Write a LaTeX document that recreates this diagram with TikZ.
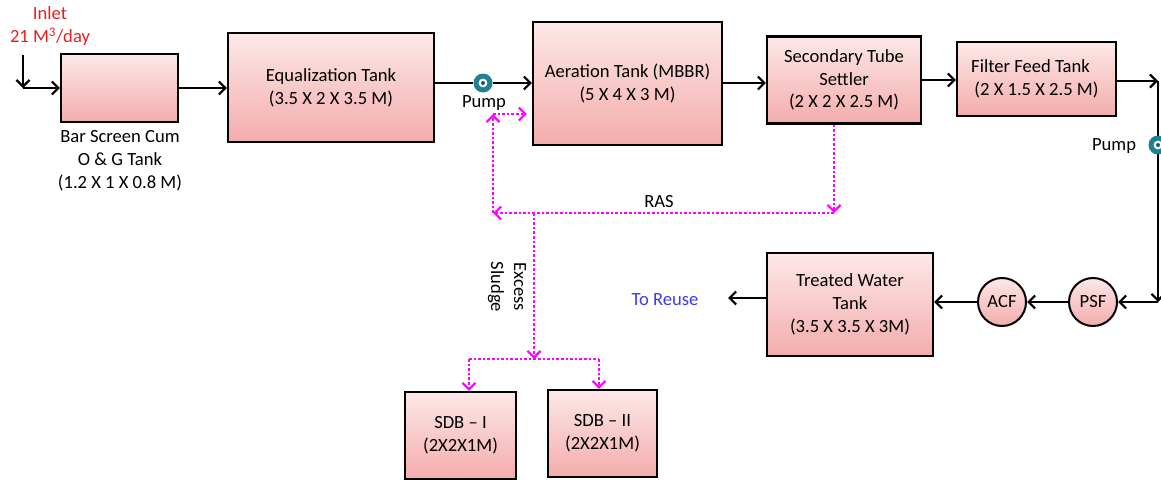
\documentclass[tikz,border=0pt]{standalone}
\usepackage{fontspec}
\setmainfont{Carlito}
\usetikzlibrary{arrows.meta,calc}

\definecolor{boxtop}{RGB}{253,232,232}
\definecolor{boxbot}{RGB}{244,172,172}
\definecolor{recycle}{RGB}{255,0,255}
\definecolor{pumpteal}{RGB}{32,128,150}
\definecolor{inletred}{RGB}{235,30,30}
\definecolor{reuseblue}{RGB}{60,60,235}

\tikzset{
  tank/.style={draw=black, line width=2.2pt, rectangle, top color=boxtop, bottom color=boxbot,
    align=center, inner sep=0pt, font=\fontsize{18.6}{22.8}\selectfont},
  filt/.style={draw=black, line width=2pt, circle, minimum size=48pt, inner sep=0pt,
    top color=boxtop, bottom color=boxbot, font=\fontsize{18.6}{22.8}\selectfont},
  lbl/.style={align=center, inner sep=0pt, font=\fontsize{18.6}{22.8}\selectfont},
  flow/.style={draw=black, line width=2.2pt},
  flowarrow/.style={flow, -{Straight Barb[length=6.5pt,width=13pt,line width=2.2pt]}},
  sludge/.style={draw=recycle, line width=2.6pt, dash pattern=on 2.6pt off 2pt},
  sludgearrow/.style={sludge, -{Straight Barb[length=6.5pt,width=13pt,line width=2.2pt]}},
  pumpdot/.style={circle, fill=pumpteal, minimum size=19pt, inner sep=0pt,
    path picture={\fill[white] (path picture bounding box.center) circle (4.4pt);
                  \fill[pumpteal!70!black] (path picture bounding box.center) circle (2pt);}}
}

\begin{document}
\begin{tikzpicture}[x=1pt, y=-1pt]
\useasboundingbox (0,0) rectangle (1161,479);

% process tanks
\node[tank, minimum width=117pt, minimum height=68pt] (bar) at (119.5,88) {};
\node[tank, minimum width=206pt, minimum height=109pt] (eq) at (331,87.5)
  {Equalization Tank\\(3.5 X 2 X 3.5 M)};
\node[tank, minimum width=189pt, minimum height=123pt] (aer) at (627.5,83.5)
  {Aeration Tank (MBBR)\\(5 X 4 X 3 M)};
\node[tank, minimum width=154pt, minimum height=87pt] (set) at (844,80)
  {Secondary Tube\\Settler\\(2 X 2 X 2.5 M)};
\node[tank, minimum width=159pt, minimum height=74pt] (ff) at (1036.5,79)
  {\hspace*{-12pt}Filter Feed Tank\\(2 X 1.5 X 2.5 M)};
\node[tank, minimum width=166pt, minimum height=103pt] (tw) at (850,304.5)
  {Treated Water\\Tank\\(3.5 X 3.5 X 3M)};
\node[filt] (acf) at (1002,302) {ACF};
\node[filt] (psf) at (1093,302) {PSF};
\node[tank, minimum width=111pt, minimum height=87pt] (sdb1) at (460.5,435.5)
  {SDB -- I\\(2X2X1M)};
\node[tank, minimum width=109pt, minimum height=87pt] (sdb2) at (602.5,433.5)
  {SDB -- II\\(2X2X1M)};

% labels
\node[lbl, text=inletred] (inlet) at (50,26) {Inlet\\21 M\textsuperscript{3}/day};
\node[lbl] (barlbl) at (120,161) {Bar Screen Cum\\O \& G Tank\\(1.2 X 1 X 0.8 M)};
\node[lbl, text=reuseblue] (reuse) at (665,300) {To Reuse};
\node[lbl] (raslbl) at (659,202) {RAS};
\node[lbl, rotate=-90] (exlbl) at (507,287) {Excess\\Sludge};

% main flow line
\coordinate (intop) at (23,55);
\coordinate (incorner) at (23,88);
\draw[flowarrow] (intop) -- (incorner);
\draw[flowarrow] (incorner) -- (bar.west);
\draw[flowarrow] (bar.east) -- (bar.east -| eq.west);
\node[pumpdot] (pump1) at (483,83) {};
\node[lbl] (pump1lbl) at (484,103) {Pump};
\draw[flow] (eq.east |- pump1) -- (pump1.west);
\draw[flowarrow] (pump1.east) -- (pump1 -| aer.west);
\draw[flowarrow] (aer.east |- pump1) -- (pump1 -| set.west);
\draw[flowarrow] (set.east) -- (set.east -| ff.west);
\coordinate (rtop) at (1158,81);
\coordinate (rbot) at (1158,302);
\draw[flowarrow] (ff.east |- rtop) -- (rtop);
\draw[flowarrow] (rtop) -- (rbot);
\node[pumpdot] (pump2) at (1158,145) {};
\node[lbl] (pump2lbl) at (1114,146) {Pump};
\draw[flowarrow] (rbot) -- (psf.east);
\draw[flowarrow] (psf.west) -- (acf.east);
\draw[flowarrow] (acf.west) -- (acf.west -| tw.east);
\coordinate (outend) at (728,298);
\draw[flowarrow] (tw.west |- outend) -- (outend);

% return activated sludge and excess sludge lines
\coordinate (ras1) at (834,213);
\coordinate (ras2) at (493,213);
\coordinate (ras3) at (493,114);
\draw[sludgearrow] (set.south -| ras1) -- (ras1);
\draw[sludgearrow] (ras1) -- (ras2);
\draw[sludgearrow] (ras2) -- (ras3);
\draw[sludgearrow, shorten >=5pt] (ras3) -- (ras3 -| aer.west);
\coordinate (ex1) at (534,213);
\coordinate (ex2) at (534,359);
\coordinate (d1) at (469,359);
\coordinate (d2) at (599,359);
\draw[sludgearrow] (ex1) -- (ex2);
\draw[sludge] (d1) -- (d2);
\draw[sludgearrow] (d1) -- (d1 |- sdb1.north);
\draw[sludgearrow] (d2) -- (d2 |- sdb2.north);
\end{tikzpicture}
\end{document}
